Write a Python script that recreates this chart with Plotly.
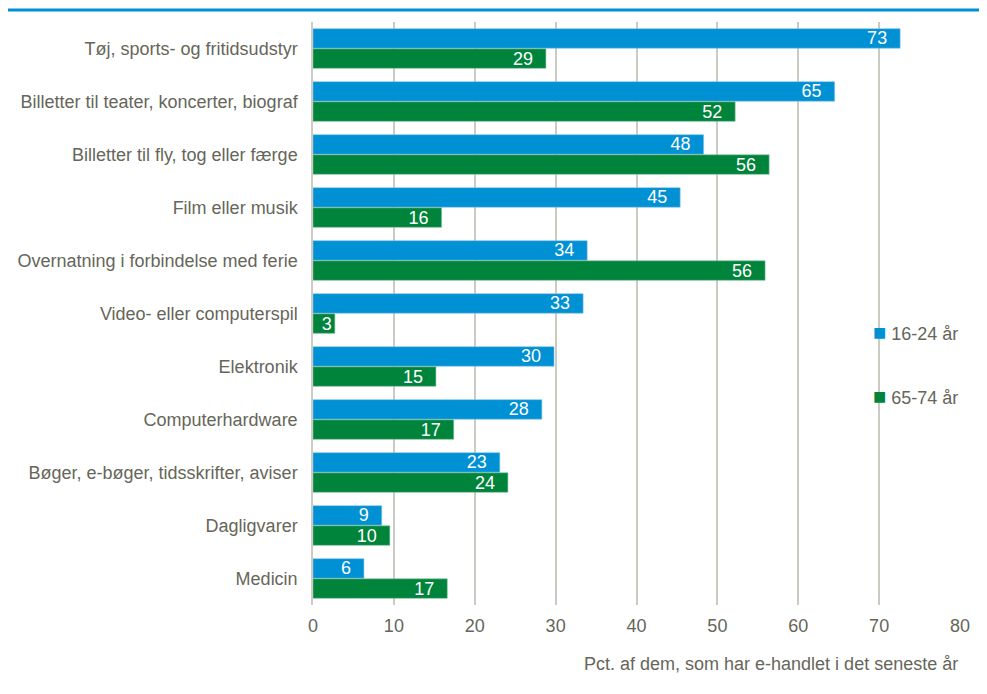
"""Horizontal grouped bars: e-handel by category for two age groups"""
import plotly.graph_objects as go

categories = [
    "Tøj, sports- og fritidsudstyr",
    "Billetter til teater, koncerter, biograf",
    "Billetter til fly, tog eller færge",
    "Film eller musik",
    "Overnatning i forbindelse med ferie",
    "Video- eller computerspil",
    "Elektronik",
    "Computerhardware",
    "Bøger, e-bøger, tidsskrifter, aviser",
    "Dagligvarer",
    "Medicin",
]
young_values = [72.6, 64.5, 48.3, 45.4, 33.9, 33.4, 29.8, 28.3, 23.1, 8.5, 6.3]
young_labels = ["73", "65", "48", "45", "34", "33", "30", "28", "23", "9", "6"]
old_values = [28.8, 52.2, 56.4, 15.9, 55.9, 2.7, 15.2, 17.4, 24.1, 9.5, 16.6]
old_labels = ["29", "52", "56", "16", "56", "3", "15", "17", "24", "10", "17"]
series_names = ["16-24 år", "65-74 år"]
x_ticks = [0, 10, 20, 30, 40, 50, 60, 70, 80]

BLUE = "#0090d4"
GREEN = "#00843c"
GREY_TEXT = "#66665a"
GRID = "#cbcbc3"
FONT = "Liberation Sans, Arial, sans-serif"
PAD = "\u00a0\u00a0"  # labels sit a bit in from the bar end


def padded(labels, vals):
    # very short bars keep their label centred, no padding
    return [lab + PAD if v > 4 else lab for lab, v in zip(labels, vals)]


fig = go.Figure()
for name, vals, labels, color, edge in [
    (series_names[0], young_values, young_labels, BLUE, "#7fc6ea"),
    (series_names[1], old_values, old_labels, GREEN, "#7fc19d"),
]:
    fig.add_trace(go.Bar(
        y=categories, x=vals, name=name, orientation="h",
        marker=dict(color=color, line=dict(color=edge, width=0.6)),
        text=padded(labels, vals),
        textposition="inside", insidetextanchor="end", textangle=0,
        constraintext="none",
        textfont=dict(color="white", size=18, family=FONT),
    ))

# page body has an 8px margin, so the figure is shrunk to fit the window
fig.update_layout(
    width=979, height=686,
    margin=dict(l=305, r=27, t=14, b=89, autoexpand=False),
    paper_bgcolor="white", plot_bgcolor="white",
    barmode="group", bargap=0.24, bargroupgap=0.03,
    font=dict(family=FONT, color=GREY_TEXT, size=18),
    showlegend=False,
)
fig.update_xaxes(
    range=[0, 80], tickvals=x_ticks, showgrid=True, gridcolor=GRID, gridwidth=1.5,
    zeroline=False, showline=False, ticks="", tickfont=dict(size=18),
    ticklabelstandoff=8,
)
fig.update_yaxes(
    autorange="reversed", showline=True, linecolor=GRID, linewidth=1.5,
    ticks="", tickfont=dict(size=18), ticklabelstandoff=10,
)

# legend drawn as annotations to keep the swatch tight to the text
for name, color, ypos in [(series_names[0], BLUE, 0.468), (series_names[1], GREEN, 0.357)]:
    fig.add_annotation(
        text=f'<span style="color:{color};font-size:22px">■</span> {name}',
        xref="paper", yref="paper", x=0.863, y=ypos,
        xanchor="left", yanchor="middle", showarrow=False,
        font=dict(size=18, color=GREY_TEXT),
    )

fig.add_annotation(
    text="Pct. af dem, som har e-handlet i det seneste år",
    xref="paper", yref="paper", x=1.0, y=-0.08,
    xanchor="right", yanchor="top", showarrow=False,
    font=dict(size=18, color=GREY_TEXT),
)
fig.add_shape(
    type="line", xref="paper", yref="paper",
    x0=-0.476, x1=1.039, y0=1.0206, y1=1.0206,
    line=dict(color=BLUE, width=3),
)

fig.write_html("out.html")
